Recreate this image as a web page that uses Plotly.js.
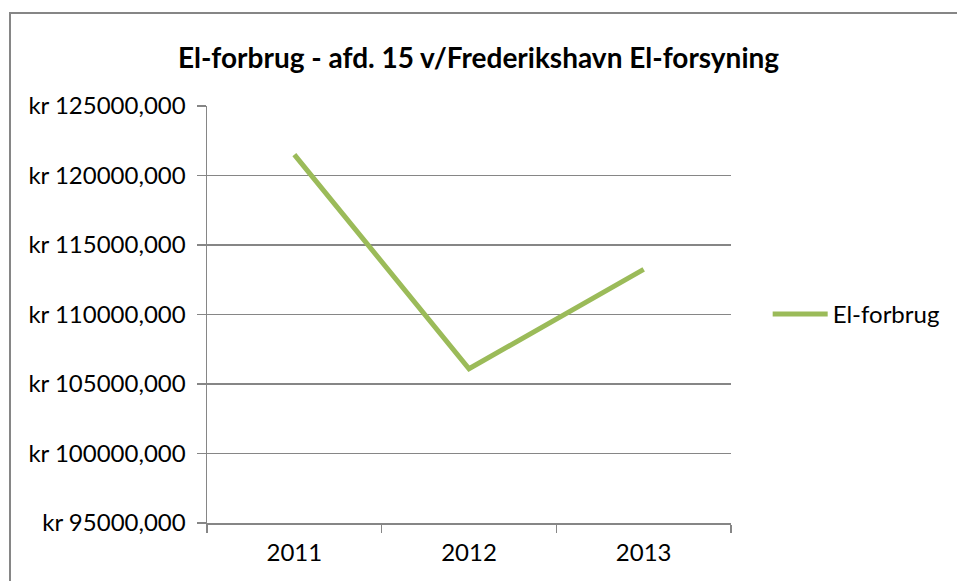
<!DOCTYPE html>
<html>
<head>
<meta charset="utf-8">
<script src="https://cdn.plot.ly/plotly-3.0.1.min.js"></script>
<style>
html,body{margin:0;padding:0;width:957px;height:581px;overflow:hidden;background:#fff;}
#frame{position:absolute;left:9px;top:12px;width:948px;height:569px;border-left:2px solid #868686;border-top:2px solid #868686;box-sizing:border-box;}
#chart{position:absolute;left:0;top:0;width:957px;height:581px;}
</style>
</head>
<body>
<div id="frame"></div>
<div id="chart"></div>
<script>
var years = ['2011', '2012', '2013'];
var elForbrug = [121500, 106100, 113250];
var seriesName = 'El-forbrug';
var chartTitle = 'El-forbrug - afd. 15 v/Frederikshavn El-forsyning';
var yTickVals = [95000, 100000, 105000, 110000, 115000, 120000, 125000];
var yTickText = ['kr 95000,000', 'kr 100000,000', 'kr 105000,000', 'kr 110000,000', 'kr 115000,000', 'kr 120000,000', 'kr 125000,000'];

var FONT = 'Lato, "Open Sans", sans-serif';
var trace = {
  x: years, y: elForbrug, name: seriesName, type: 'scatter', mode: 'lines',
  line: {color: '#9BBB59', width: 5}
};
var layout = {
  width: 957, height: 581,
  paper_bgcolor: 'rgba(0,0,0,0)', plot_bgcolor: 'rgba(0,0,0,0)',
  margin: {l: 207, r: 222, t: 106, b: 58, pad: 0},
  font: {family: FONT, size: 24, color: '#000'},
  title: {text: '<b>' + chartTitle + '</b>', font: {family: FONT, size: 28, color: '#000'},
          x: 0.5, xref: 'container', xanchor: 'center', y: 0.9, yref: 'container', yanchor: 'middle'},
  showlegend: true,
  legend: {x: 1.07, xanchor: 'left', y: 0.5, yanchor: 'middle', font: {family: FONT, size: 24},
           bgcolor: 'rgba(0,0,0,0)', itemwidth: 55},
  xaxis: {type: 'category', range: [-0.5, 2.5], showline: true, linecolor: '#868686', linewidth: 1.5,
          ticks: 'outside', tickson: 'boundaries', ticklen: 8, tickcolor: '#868686', tickwidth: 1.5,
          showgrid: false, zeroline: false, fixedrange: true, ticklabelstandoff: 8},
  yaxis: {range: [95000, 125000], tickvals: yTickVals, ticktext: yTickText, showline: true,
          linecolor: '#868686', linewidth: 1.5, ticks: 'outside', ticklen: 9, tickcolor: '#868686', tickwidth: 1.5,
          showgrid: true, gridcolor: '#868686', gridwidth: 1.5, zeroline: false, fixedrange: true, ticklabelstandoff: 6}
};
Plotly.newPlot('chart', [trace], layout, {displayModeBar: false, staticPlot: true});
</script>
</body>
</html>
